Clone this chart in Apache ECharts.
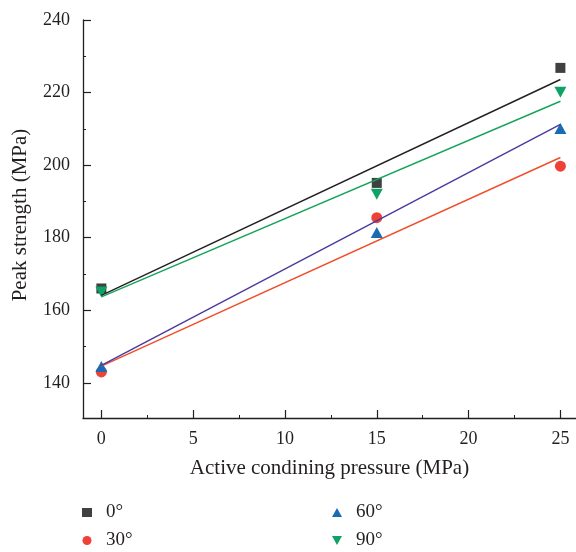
<!DOCTYPE html>
<html>
<head>
<meta charset="utf-8">
<script src="https://cdn.jsdelivr.net/npm/echarts@6/dist/echarts.min.js"></script>
<style>html,body{margin:0;padding:0;background:#fff}#c{width:576px;height:552px}</style>
</head>
<body>
<div id="c"></div>
<script>
// Data
const pressure = [0, 15, 25];
const names = ['0°', '30°', '60°', '90°'];
const strength0 = [166, 195.1, 226.8];
const strength30 = [143, 185.5, 199.7];
const strength60 = [144.5, 181.4, 210.1];
const strength90 = [165, 192, 220.1];
// fitted line end points (at pressure 0 and 25)
const fitX = [0, 25];
const fit0 = [164.1, 223.6];
const fit30 = [144.6, 202.1];
const fit60 = [144.8, 211.2];
const fit90 = [163.7, 217.6];
const xTicks = [0, 5, 10, 15, 20, 25];
const xMinor = [2.5, 7.5, 12.5, 17.5, 22.5];
const yTicks = [140, 160, 180, 200, 220, 240];
const yMinor = [150, 170, 190, 210, 230];

const FONT = 'Liberation Serif';
const TXT = '#231f20';
const pointColors = ['#404040', '#ef4136', '#1a6bb4', '#0ea266'];
const lineColors = ['#231f20', '#f04e2a', '#4a3a9e', '#17a35c'];
const symbols = ['rect', 'circle', 'triangle', 'path://M0,0 L10,0 L5,9 Z'];
const symSizes = [10, 11, [12, 11], [12, 11]];
const strengths = [strength0, strength30, strength60, strength90];
const fits = [fit0, fit30, fit60, fit90];

const pairs = (xs, ys) => xs.map((x, i) => [x, ys[i]]);

const series = [];
names.forEach((n, i) => {
  series.push({
    name: n, type: 'scatter', xAxisIndex: 0, yAxisIndex: 0,
    data: pairs(pressure, strengths[i]),
    symbol: symbols[i], symbolSize: symSizes[i],
    itemStyle: {color: pointColors[i], opacity: 1}, z: 2, silent: true
  });
});
names.forEach((n, i) => {
  series.push({
    name: 'fit' + n, type: 'line', xAxisIndex: 0, yAxisIndex: 0,
    data: pairs(fitX, fits[i]), showSymbol: false, symbol: 'none',
    lineStyle: {color: lineColors[i], width: 1.4}, z: 3, silent: true
  });
});

const axisLine = {show: true, onZero: false, lineStyle: {color: '#231f20', width: 1.3}};
const legendCommon = {
  orient: 'vertical', top: 503, padding: 0,
  itemWidth: 10, itemHeight: 9, itemGap: 9,
  textStyle: {fontFamily: FONT, fontSize: 19, color: TXT, padding: [0, 0, 0, 9]}
};
const chart = echarts.init(document.getElementById('c'), null, {renderer: 'canvas'});
chart.setOption({
  animation: false,
  backgroundColor: '#fff',
  grid: {left: 83, top: 20, right: 0, bottom: 134, containLabel: false},
  xAxis: [{
    type: 'value', min: -1, max: 25.85, position: 'bottom',
    axisLine: axisLine, splitLine: {show: false},
    axisTick: {show: true, inside: true, length: 8, customValues: xTicks, lineStyle: {color: '#231f20', width: 1.2}},
    axisLabel: {customValues: xTicks, margin: 12, fontFamily: FONT, fontSize: 18, color: TXT},
    name: 'Active condining pressure (MPa)', nameLocation: 'middle', nameGap: 40,
    nameTextStyle: {fontFamily: FONT, fontSize: 21, color: TXT}
  }, {
    type: 'value', min: -1, max: 25.85, position: 'bottom',
    axisLine: {show: false, onZero: false}, splitLine: {show: false},
    axisTick: {show: true, inside: true, length: 3, customValues: xMinor, lineStyle: {color: '#231f20', width: 1}},
    axisLabel: {show: false}
  }],
  yAxis: [{
    type: 'value', min: 130.3, max: 240, position: 'left',
    axisLine: axisLine, splitLine: {show: false},
    axisTick: {show: true, inside: true, length: 8, customValues: yTicks, lineStyle: {color: '#231f20', width: 1.2}},
    axisLabel: {customValues: yTicks, margin: 13, fontFamily: FONT, fontSize: 18, color: TXT},
    name: 'Peak strength (MPa)', nameLocation: 'middle', nameGap: 52,
    nameTextStyle: {fontFamily: FONT, fontSize: 21, color: TXT, padding: [0, 0, 0, 8]}
  }, {
    type: 'value', min: 130.3, max: 240, position: 'left',
    axisLine: {show: false, onZero: false}, splitLine: {show: false},
    axisTick: {show: true, inside: true, length: 3, customValues: yMinor, lineStyle: {color: '#231f20', width: 1}},
    axisLabel: {show: false}
  }],
  legend: [
    Object.assign({data: [names[0], names[1]], left: 82}, legendCommon),
    Object.assign({data: [names[2], names[3]], left: 332}, legendCommon)
  ],
  series: series
});
</script>
</body>
</html>
